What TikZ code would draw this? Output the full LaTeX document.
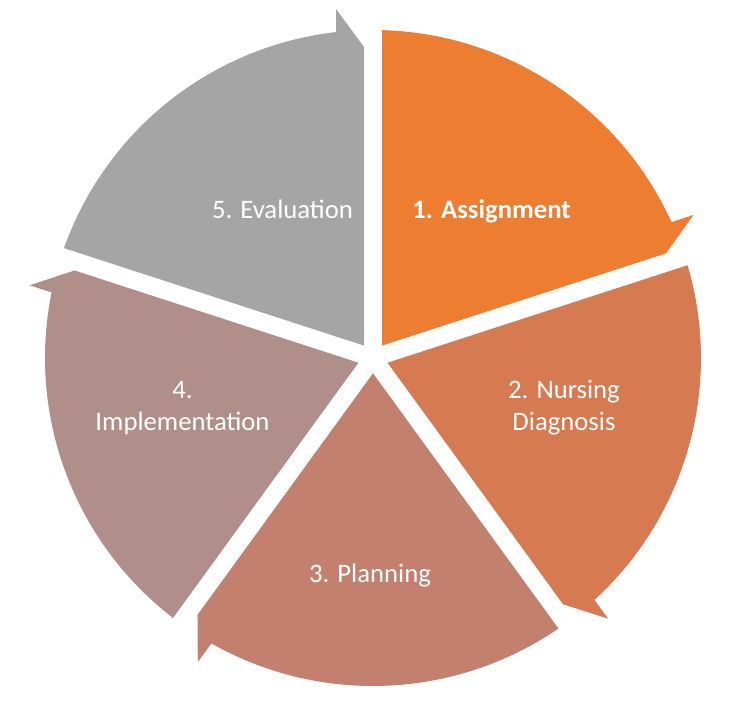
\documentclass[tikz,border=0pt]{standalone}
\usepackage{fontspec}
\setmainfont{Carlito}
\usetikzlibrary{positioning}

\definecolor{segone}{RGB}{237,125,49}
\definecolor{segtwo}{RGB}{214,122,82}
\definecolor{segthree}{RGB}{196,128,111}
\definecolor{segfour}{RGB}{176,142,137}
\definecolor{segfive}{RGB}{165,165,165}

\begin{document}
\begin{tikzpicture}[
  x=1pt,y=1pt,
  segment/.pic={
    \fill[pic actions] (12.39,9) -- (311,9) -- (349,37) -- (325.9,37)
      arc[start angle=6.48,end angle=70.43,radius=328pt] -- cycle;
  },
  segtext/.style={text=white,font=\fontsize{26.7}{32}\selectfont,align=center,anchor=base}
  ]
  % Frame
  \useasboundingbox (0,0) rectangle (751,720);
  \fill[white] (0,0) rectangle (751,720);
  % Centre of the cycle
  \coordinate (O) at (373,362);
  % Segments
  \pic[rotate=18,fill=segone]    at (O) {segment};
  \pic[rotate=-54,fill=segtwo]   at (O) {segment};
  \pic[rotate=-126,fill=segthree] at (O) {segment};
  \pic[rotate=162,fill=segfour]  at (O) {segment};
  \pic[rotate=90,fill=segfive]   at (O) {segment};
  % Labels
  \node[segtext,font=\fontsize{26.7}{32}\selectfont\bfseries] (assign) at (491.5,501) {1. Assignment};
  \node[segtext] (nursing) at (564,289) {2. Nursing\\Diagnosis};
  \node[segtext] (planning) at (370,138) {3. Planning};
  \node[segtext] (impl) at (182.5,289) {4.\\Implementation};
  \node[segtext] (eval) at (282.5,501) {5. Evaluation};
\end{tikzpicture}
\end{document}
